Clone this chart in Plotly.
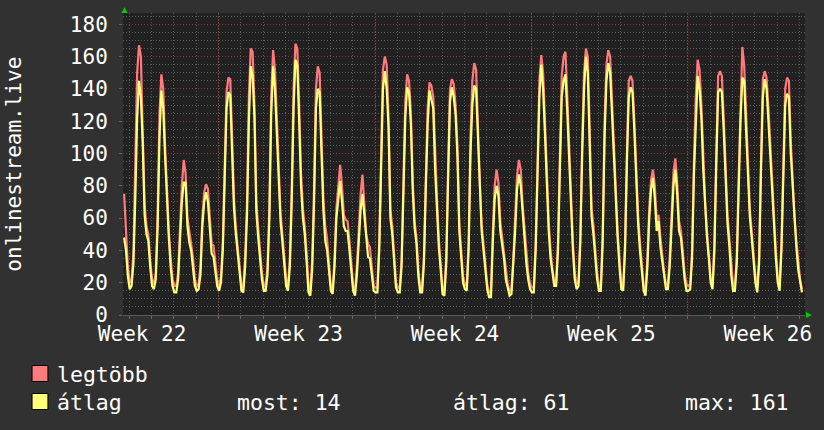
import plotly.graph_objects as go

# ---------------- data (2-hour samples, x in days from the plot's left edge) ----------------
START_DAY = 0.05
STEP_DAY = 1 / 12

# "átlag" (average) series
AVG_PREFIX = [48, 40, 24, 16, 18, 32, 72, 122]
AVG_DAYS = [
    [145, 135, 106, 62, 50, 46, 30, 18, 16, 22, 55, 110],
    [139, 128, 98, 68, 48, 30, 18, 14, 14, 22, 48, 70],
    [82, 82, 55, 45, 40, 30, 18, 15, 16, 25, 55, 70],
    [76, 70, 55, 38, 36, 28, 18, 15, 20, 40, 80, 128],
    [138, 136, 100, 66, 50, 38, 24, 15, 14, 30, 62, 120],
    [154, 148, 122, 64, 48, 34, 22, 15, 15, 25, 60, 125],
    [154, 140, 110, 80, 58, 45, 32, 18, 15, 30, 70, 128],
    [158, 155, 120, 80, 60, 50, 33, 14, 12, 28, 70, 128],
    [140, 138, 100, 65, 46, 40, 28, 15, 13, 30, 60, 72],
    [83, 70, 55, 52, 52, 40, 25, 15, 12, 25, 45, 65],
    [75, 62, 45, 36, 35, 25, 15, 14, 14, 40, 100, 140],
    [151, 140, 116, 60, 50, 33, 17, 14, 14, 30, 75, 122],
    [141, 138, 118, 77, 54, 44, 24, 14, 14, 32, 78, 118],
    [139, 134, 128, 90, 66, 42, 28, 13, 12, 32, 85, 132],
    [141, 135, 124, 98, 52, 32, 20, 16, 15, 40, 100, 130],
    [142, 140, 108, 77, 52, 40, 28, 16, 11, 11, 45, 72],
    [80, 74, 52, 43, 35, 22, 16, 12, 13, 30, 52, 78],
    [87, 80, 62, 48, 32, 22, 16, 14, 14, 40, 85, 135],
    [155, 140, 112, 78, 52, 35, 25, 18, 18, 40, 90, 135],
    [145, 149, 125, 95, 65, 40, 22, 16, 18, 45, 100, 140],
    [160, 150, 106, 61, 50, 38, 22, 15, 15, 45, 110, 145],
    [156, 150, 124, 94, 65, 48, 30, 16, 15, 40, 94, 135],
    [141, 138, 114, 83, 57, 40, 28, 15, 12, 30, 60, 78],
    [85, 72, 52, 58, 42, 32, 22, 16, 16, 30, 55, 80],
    [90, 75, 52, 48, 35, 22, 15, 15, 16, 35, 87, 125],
    [148, 140, 122, 90, 65, 48, 35, 20, 16, 40, 94, 138],
    [140, 138, 114, 79, 57, 43, 25, 15, 15, 32, 79, 120],
    [147, 145, 114, 83, 61, 48, 36, 20, 14, 32, 89, 135],
    [146, 140, 120, 100, 72, 52, 35, 20, 15, 40, 90, 130],
    [137, 135, 100, 78, 56, 42, 28, 20, 14],
]

# "legtöbb" (maximum) series
MAX_PREFIX = [75, 48, 30, 20, 22, 38, 86, 150]
MAX_DAYS = [
    [167, 160, 112, 68, 55, 50, 34, 22, 19, 26, 62, 125],
    [149, 140, 105, 75, 52, 35, 22, 18, 18, 26, 55, 80],
    [96, 88, 60, 50, 44, 35, 22, 18, 19, 30, 60, 76],
    [81, 78, 62, 44, 43, 34, 22, 18, 24, 45, 88, 138],
    [147, 146, 110, 72, 54, 42, 28, 18, 17, 36, 70, 135],
    [165, 163, 130, 70, 54, 40, 26, 18, 18, 30, 66, 135],
    [164, 152, 118, 86, 63, 50, 36, 22, 18, 35, 78, 140],
    [168, 165, 130, 88, 66, 55, 38, 18, 16, 34, 78, 140],
    [154, 150, 110, 72, 55, 47, 32, 18, 16, 35, 66, 80],
    [93, 80, 62, 59, 58, 46, 30, 18, 15, 30, 52, 75],
    [87, 68, 50, 44, 42, 30, 18, 17, 17, 45, 110, 152],
    [160, 155, 122, 65, 55, 38, 20, 17, 17, 34, 80, 132],
    [149, 145, 125, 82, 58, 48, 28, 17, 17, 36, 84, 128],
    [144, 142, 135, 96, 72, 47, 32, 16, 15, 36, 92, 140],
    [146, 143, 130, 104, 56, 36, 24, 19, 18, 45, 110, 145],
    [156, 152, 115, 82, 56, 44, 32, 19, 14, 14, 52, 80],
    [90, 82, 58, 48, 40, 26, 19, 15, 16, 35, 58, 86],
    [96, 90, 68, 52, 36, 26, 19, 17, 17, 45, 92, 145],
    [161, 150, 120, 84, 58, 40, 28, 21, 21, 45, 98, 148],
    [160, 163, 135, 102, 70, 45, 26, 19, 21, 50, 108, 150],
    [165, 160, 115, 66, 56, 42, 26, 18, 18, 50, 118, 155],
    [164, 160, 132, 100, 70, 52, 35, 19, 18, 45, 100, 145],
    [148, 145, 120, 88, 62, 45, 32, 18, 15, 35, 66, 84],
    [90, 80, 58, 62, 48, 36, 26, 19, 19, 36, 62, 88],
    [97, 82, 58, 52, 40, 26, 19, 18, 19, 40, 95, 135],
    [158, 152, 130, 96, 70, 52, 38, 22, 19, 45, 100, 148],
    [151, 148, 122, 85, 62, 48, 30, 18, 18, 36, 85, 135],
    [166, 154, 122, 88, 66, 52, 40, 24, 17, 36, 95, 146],
    [151, 147, 128, 106, 78, 56, 39, 23, 18, 45, 96, 140],
    [147, 145, 108, 84, 60, 46, 32, 22, 16],
]

WEEK_LABELS = ["Week 22", "Week 23", "Week 24", "Week 25", "Week 26"]
WEEK_LABEL_POS = [0.855, 7.855, 14.855, 21.855, 28.855]
WEEK_LINES = [4.28, 11.28, 18.28, 25.28]
DAY_GRID_START = 0.28
X_RANGE = [0, 30.52]
Y_RANGE = [0, 187]
Y_TICKS = [0, 20, 40, 60, 80, 100, 120, 140, 160, 180]

SERIES_NAMES = ["legtöbb", "átlag"]
STATS = ["most: 14", "átlag: 61", "max: 161"]
Y_TITLE = "onlinestream.live"

# ---------------- build ----------------
avg = AVG_PREFIX + [v for day in AVG_DAYS for v in day]
mx = MAX_PREFIX + [v for day in MAX_DAYS for v in day]
x = [START_DAY + i * STEP_DAY for i in range(len(avg))]

W, H = 824, 430
L, R, T, B = 123, 15, 13, 115
PW, PH = W - L - R, H - T - B

def pxx(p):
    return (p - L) / PW

def pxy(p):
    return (H - B - p) / PH

FONT = "DejaVu Sans Mono"
RED = "#ff7a7a"
YEL = "#ffff7a"
GRID = "#5a5a5a"
MAJ = "#8a3636"
BG = "#313131"
CANVAS = "#212121"

fig = go.Figure()
fig.add_trace(go.Scatter(x=x, y=mx, mode="lines", line=dict(color=RED, width=2.2),
                         name=SERIES_NAMES[0], showlegend=False))
fig.add_trace(go.Scatter(x=x, y=avg, mode="lines", line=dict(color=YEL, width=2.2),
                         name=SERIES_NAMES[1], showlegend=False))

shapes = []
for wl in WEEK_LINES:
    shapes.append(dict(type="line", xref="x", yref="paper", x0=wl, x1=wl, y0=0, y1=1,
                       line=dict(color=MAJ, width=1, dash="1px,2px"), layer="below"))
# green arrows
shapes.append(dict(type="path", xref="paper", yref="paper",
                   path=f"M {pxx(121.5)} {pxy(13)} L {pxx(127.5)} {pxy(13)} L {pxx(124.5)} {pxy(7)} Z",
                   fillcolor="#00cc00", line=dict(width=0)))
shapes.append(dict(type="path", xref="paper", yref="paper",
                   path=f"M {pxx(810)} {pxy(312)} L {pxx(810)} {pxy(318)} L {pxx(816)} {pxy(315)} Z",
                   fillcolor="#00cc00", line=dict(width=0)))
# legend squares
shapes.append(dict(type="rect", xref="paper", yref="paper",
                   x0=pxx(31.5), x1=pxx(47.5), y0=pxy(381.5), y1=pxy(365.5),
                   fillcolor=RED, line=dict(color="#000000", width=1)))
shapes.append(dict(type="rect", xref="paper", yref="paper",
                   x0=pxx(31.5), x1=pxx(47.5), y0=pxy(409.5), y1=pxy(393.5),
                   fillcolor=YEL, line=dict(color="#000000", width=1)))

tf = dict(family=FONT, size=21, color="#ffffff")
lf = dict(family=FONT, size=21.5, color="#ffffff")
annotations = [
    dict(text=Y_TITLE, xref="paper", yref="paper", x=pxx(13), y=0.5, textangle=-90,
         showarrow=False, xanchor="center", yanchor="middle", font=tf),
    dict(text=SERIES_NAMES[0], xref="paper", yref="paper", x=pxx(55), y=pxy(374),
         showarrow=False, xanchor="left", yanchor="middle", font=lf),
    dict(text=SERIES_NAMES[1], xref="paper", yref="paper", x=pxx(55), y=pxy(402),
         showarrow=False, xanchor="left", yanchor="middle", font=lf),
    dict(text=STATS[0], xref="paper", yref="paper", x=pxx(236), y=pxy(402),
         showarrow=False, xanchor="left", yanchor="middle", font=lf),
    dict(text=STATS[1], xref="paper", yref="paper", x=pxx(453), y=pxy(402),
         showarrow=False, xanchor="left", yanchor="middle", font=lf),
    dict(text=STATS[2], xref="paper", yref="paper", x=pxx(686), y=pxy(402),
         showarrow=False, xanchor="left", yanchor="middle", font=lf),
]

fig.update_layout(
    width=W, height=H,
    margin=dict(l=L, r=R, t=T, b=B, pad=0),
    paper_bgcolor=BG, plot_bgcolor=CANVAS,
    font=tf,
    shapes=shapes, annotations=annotations,
    hovermode=False,
    xaxis=dict(range=X_RANGE, tickvals=WEEK_LABEL_POS, ticktext=WEEK_LABELS,
               showgrid=False, zeroline=False, ticks="", showline=False,
               tickfont=tf, ticklabelstandoff=4,
               minor=dict(tick0=DAY_GRID_START, dtick=1, showgrid=True, gridcolor=GRID,
                          griddash="1px,2px", gridwidth=1, ticks="outside", ticklen=3,
                          tickcolor="#666666")),
    yaxis=dict(range=Y_RANGE, tickvals=Y_TICKS, showgrid=True, gridcolor=MAJ,
               griddash="1px,2px", gridwidth=1, zeroline=True, zerolinecolor="#5a5a5a",
               zerolinewidth=1, ticks="outside", ticklen=3, tickcolor="#666666",
               tickfont=tf, ticklabelstandoff=7,
               minor=dict(dtick=5, showgrid=True, gridcolor=GRID, griddash="1px,2px",
                          gridwidth=1)),
)

fig.write_html("out.html")
